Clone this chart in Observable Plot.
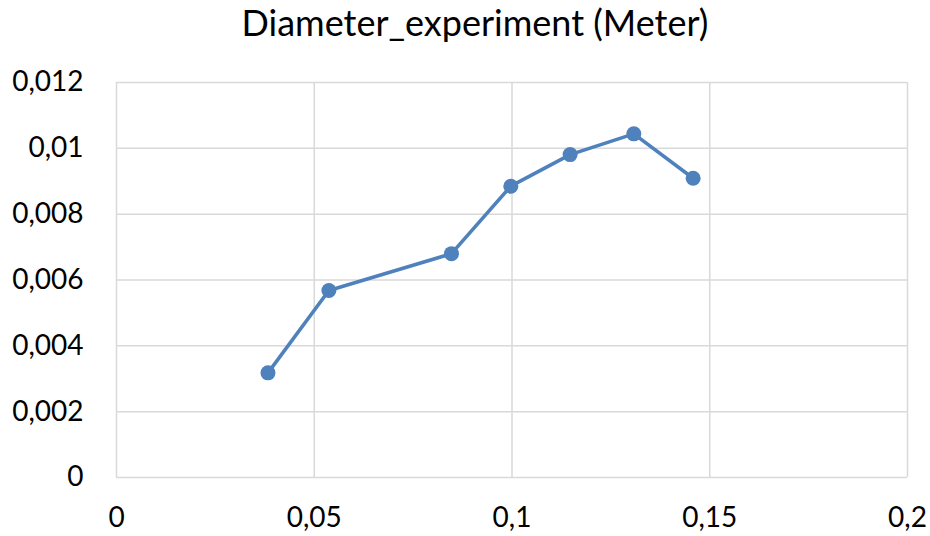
<!DOCTYPE html>
<html><head><meta charset="utf-8">
<script src="https://cdn.jsdelivr.net/npm/d3@7"></script>
<script src="https://cdn.jsdelivr.net/npm/@observablehq/plot@0.6"></script>
<style>
body{margin:0;background:#fff;}
#title{height:56px;padding-top:4px;width:910px;padding-left:20px;text-align:center;font-family:Lato,"Open Sans",sans-serif;font-size:36px;line-height:1;color:#000;white-space:nowrap;}
</style>
</head><body>
<div id="title"></div>
<div id="chart"></div>
<script>
const title = "Diameter_experiment (Meter)";
const xValues = [0.0383, 0.0537, 0.0847, 0.0997, 0.1147, 0.1308, 0.1458];
const yValues = [0.00318, 0.00568, 0.0068, 0.00885, 0.00981, 0.01044, 0.00909];
const xTicks = [0, 0.05, 0.1, 0.15, 0.2];
const yTicks = [0, 0.002, 0.004, 0.006, 0.008, 0.01, 0.012];
const fmt = d => String(d).replace(".", ",");
const data = xValues.map((x, i) => ({x, y: yValues[i]}));

document.getElementById("title").textContent = title;

const chart = Plot.plot({
  width: 930,
  height: 476,
  marginTop: 22,
  marginBottom: 59,
  marginLeft: 116,
  marginRight: 23,
  style: {fontFamily: "Lato, 'Open Sans', sans-serif", fontSize: "27px", color: "#000", background: "#fff"},
  x: {domain: [0, 0.2]},
  y: {domain: [0, 0.012]},
  marks: [
    Plot.gridX(xTicks, {stroke: "#d9d9d9", strokeOpacity: 1, strokeWidth: 1.5}),
    Plot.gridY(yTicks, {stroke: "#d9d9d9", strokeOpacity: 1, strokeWidth: 1.5}),
    Plot.axisX(xTicks, {tickSize: 0, tickPadding: 30, tickFormat: fmt, label: null, fontSize: 28, fill: "#000"}),
    Plot.axisY(yTicks, {tickSize: 0, tickPadding: 33, tickFormat: fmt, label: null, fontSize: 28, fill: "#000"}),
    Plot.line(data, {x: "x", y: "y", stroke: "#4f81bd", strokeWidth: 3.6}),
    Plot.dot(data, {x: "x", y: "y", fill: "#4f81bd", r: 7.5, stroke: "none"})
  ]
});
document.getElementById("chart").appendChild(chart);
</script>
</body></html>
